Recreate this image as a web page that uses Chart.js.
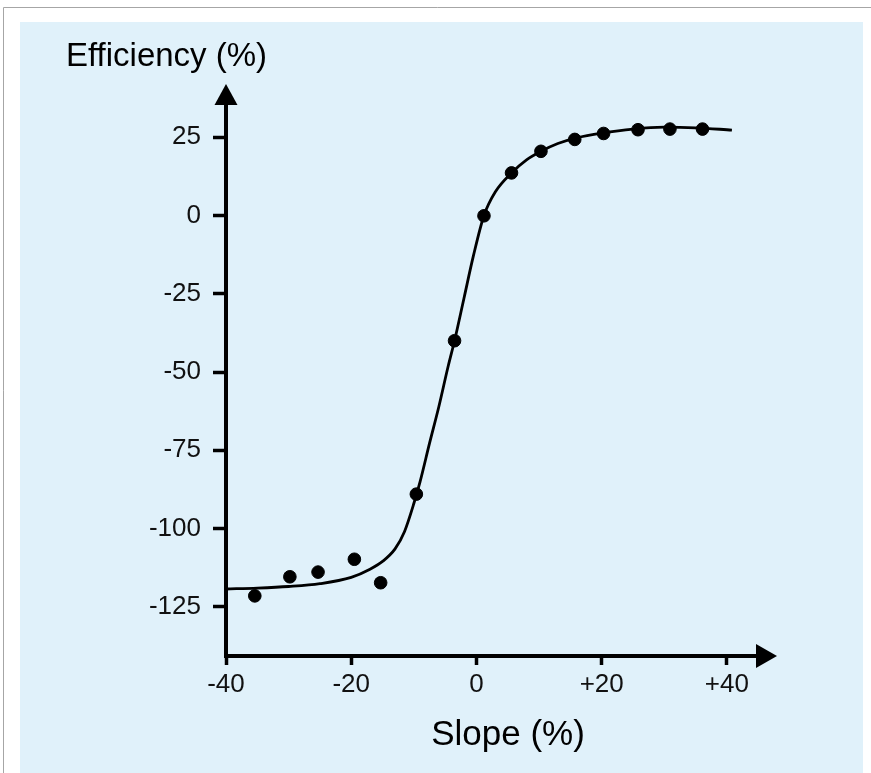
<html>
    <head>
        <script src="https://cdn.jsdelivr.net/npm/chart.js@4.4.0/dist/chart.umd.min.js"></script>
        <style>
            body { margin: 0; background: #fff; }
            #wrap { width: 871px; height: 773px; }
        </style>
    </head>
    <body>
        <div id="wrap"><canvas id="myChart" width="871" height="773"></canvas></div>

        <script>
            // measured points (slope %, efficiency %)
            var slopeData = [-35.4, -29.8, -25.3, -19.5, -15.3, -9.6, -3.5, 1.2, 5.6, 10.3, 15.7, 20.3, 25.8, 30.9, 36.1];
            var effData = [-121.5, -115.4, -113.9, -109.8, -117.3, -89.0, -40.0, -0.1, 13.6, 20.5, 24.3, 26.2, 27.4, 27.6, 27.6];

            // fitted curve
            var curveX = [-40, -35, -30, -25, -20, -17, -15, -13, -11.5, -10, -9, -7.5, -6, -4.5, -3.5, -2, -0.5, 1.2, 3, 5.6, 8, 10.3, 13, 16, 20, 25, 30, 35, 40.8];
            var curveY = [-119.3, -119.0, -118.5, -117.6, -115.6, -113.0, -110.5, -106.5, -101, -92, -85, -72.8, -61, -48, -40, -26.5, -13, 0, 7.5, 13.6, 17.8, 20.5, 23, 24.8, 26.3, 27.6, 28.2, 28.0, 27.3];

            // tick labels
            var xTicks = [-40, -20, 0, 20, 40];
            var yTicks = [25, 0, -25, -50, -75, -100, -125];

            var xTitle = 'Slope (%)';
            var yTitle = 'Efficiency (%)';

            var points = slopeData.map(function (x, i) { return { x: x, y: effData[i] }; });
            var curve = curveX.map(function (x, i) { return { x: x, y: curveY[i] }; });

            var frame = {
                id: 'frame',
                beforeDraw: function (chart) {
                    var c = chart.ctx;
                    c.save();
                    c.fillStyle = '#ffffff';
                    c.fillRect(0, 0, 871, 773);
                    c.strokeStyle = '#a6a6a6';
                    c.lineWidth = 1;
                    c.beginPath();
                    c.moveTo(3.5, 773);
                    c.lineTo(3.5, 7.5);
                    c.lineTo(871, 7.5);
                    c.stroke();
                    c.fillStyle = '#e0f1fa';
                    c.fillRect(20, 22, 843, 751);
                    c.restore();
                },
                afterDatasetsDraw: function (chart) {
                    var c = chart.ctx;
                    var a = chart.chartArea;
                    var x0 = chart.scales.x.getPixelForValue(-40);
                    var y0 = a.bottom;
                    c.save();
                    c.strokeStyle = '#000';
                    c.fillStyle = '#000';
                    c.lineWidth = 4;
                    c.beginPath();
                    c.moveTo(x0, y0 + 2);
                    c.lineTo(x0, a.top + 20);
                    c.moveTo(x0 - 2, y0);
                    c.lineTo(a.right - 20, y0);
                    c.stroke();
                    // arrows
                    c.beginPath();
                    c.moveTo(x0, a.top);
                    c.lineTo(x0 - 11.5, a.top + 21);
                    c.lineTo(x0 + 11.5, a.top + 21);
                    c.closePath();
                    c.fill();
                    c.beginPath();
                    c.moveTo(a.right, y0);
                    c.lineTo(a.right - 21, y0 - 12);
                    c.lineTo(a.right - 21, y0 + 12);
                    c.closePath();
                    c.fill();
                    // titles
                    c.textBaseline = 'alphabetic';
                    c.textAlign = 'left';
                    c.font = '33px "Liberation Sans", Arial, sans-serif';
                    c.fillText(yTitle, 66, 66);
                    c.textAlign = 'center';
                    c.font = '35px "Liberation Sans", Arial, sans-serif';
                    c.fillText(xTitle, 508, 745);
                    c.restore();
                }
            };

            var ctx = document.getElementById('myChart').getContext('2d');
            var chart = new Chart(ctx, {
                type: 'scatter',
                data: {
                    datasets: [{
                        label: 'Fit',
                        type: 'line',
                        data: curve,
                        borderColor: '#000',
                        borderWidth: 2.8,
                        pointRadius: 0,
                        fill: false,
                        cubicInterpolationMode: 'monotone'
                    }, {
                        label: 'Measured',
                        data: points,
                        backgroundColor: '#000',
                        borderColor: '#000',
                        pointRadius: 6.3,
                        pointHoverRadius: 6.3
                    }]
                },
                options: {
                    responsive: false,
                    animation: false,
                    events: [],
                    layout: { padding: { left: 0, top: 84, right: 94, bottom: 0 } },
                    plugins: {
                        legend: { display: false },
                        tooltip: { enabled: false }
                    },
                    scales: {
                        x: {
                            type: 'linear',
                            min: -40,
                            max: 48,
                            afterBuildTicks: function (s) { s.ticks = xTicks.map(function (v) { return { value: v }; }); },
                            afterFit: function (s) { s.height = 117; },
                            border: { display: false },
                            grid: { drawOnChartArea: false, drawTicks: true, tickLength: 9, tickWidth: 3.5, tickColor: '#000' },
                            ticks: {
                                color: '#111',
                                padding: 4,
                                maxRotation: 0,
                                font: { family: '"Liberation Sans", Arial, sans-serif', size: 26 },
                                callback: function (v) { return v > 0 ? '+' + v : '' + v; }
                            }
                        },
                        y: {
                            type: 'linear',
                            min: -140.7,
                            max: 42,
                            afterBuildTicks: function (s) { s.ticks = yTicks.map(function (v) { return { value: v }; }); },
                            afterFit: function (s) { s.width = 226; },
                            border: { display: false },
                            grid: { drawOnChartArea: false, drawTicks: true, tickLength: 13, tickWidth: 3.5, tickColor: '#000' },
                            ticks: {
                                color: '#111',
                                padding: 12,
                                font: { family: '"Liberation Sans", Arial, sans-serif', size: 26 }
                            }
                        }
                    }
                },
                plugins: [frame]
            });
        </script>
    </body>
</html>
